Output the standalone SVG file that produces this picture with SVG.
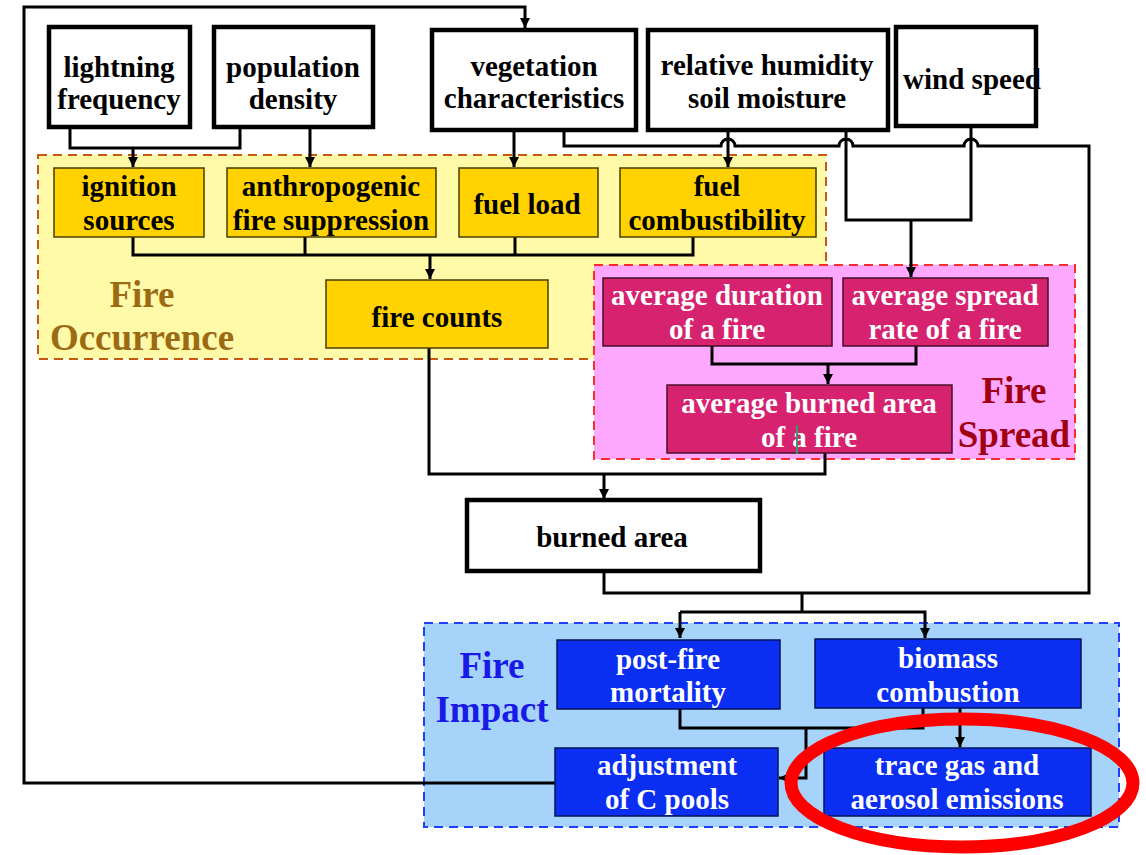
<svg xmlns="http://www.w3.org/2000/svg" width="1146" height="855" viewBox="0 0 1146 855">
<defs>
<marker id="arr" viewBox="0 0 10 10" refX="10" refY="5" markerWidth="10" markerHeight="11" markerUnits="userSpaceOnUse" orient="auto">
<path d="M0,0 L10,5 L0,10 z" fill="#000"/>
</marker>
</defs>
<style>
text{font-family:"Liberation Serif","Times New Roman",serif;font-weight:bold;text-anchor:middle}
.t{font-size:29px;fill:#000}
.w{font-size:29px;fill:#fff}
.g{font-size:37px}
.bx{fill:#fff;stroke:#000;stroke-width:4.5}
.yn{fill:#FFD200;stroke:#4a3c00;stroke-width:1.5}
.mn{fill:#D6226F;stroke:#4a0f2a;stroke-width:1.5}
.bn{fill:#0A2EF2;stroke:#04145a;stroke-width:1.5}
.c{fill:none;stroke:#000;stroke-width:3}
.ca{fill:none;stroke:#000;stroke-width:3;marker-end:url(#arr)}
</style>
<rect width="1146" height="855" fill="#fff"/>

<g id="region-occurrence">
<rect x="38" y="155" width="788" height="204" fill="#FFFAA8" stroke="#C55A11" stroke-width="2" stroke-dasharray="9,6"/>
<text class="g" x="142" y="307" fill="#9C6A14">Fire</text>
<text class="g" x="142" y="350" fill="#9C6A14">Occurrence</text>
</g>
<g id="region-spread">
<rect x="594" y="265" width="481" height="194" fill="#FFA8FF" stroke="#FF2A2A" stroke-width="2" stroke-dasharray="9,6"/>
<text class="g" x="1014" y="403" fill="#A00010">Fire</text>
<text class="g" x="1014" y="447" fill="#A00010">Spread</text>
</g>
<g id="region-impact">
<rect x="424" y="623" width="695" height="204" fill="#A6D3FA" stroke="#1F3FFF" stroke-width="2" stroke-dasharray="9,6"/>
<text class="g" x="492" y="678" fill="#1A1AE6">Fire</text>
<text class="g" x="492" y="722" fill="#1A1AE6">Impact</text>
</g>

<g id="connectors">
<path class="ca" d="M555,783 H24 V7 H525 V28"/>
<path class="c" d="M70,127 V148 H240 V127"/>
<path class="ca" d="M133,148 V167"/>
<path class="ca" d="M310,128 V167"/>
<path class="ca" d="M514,130 V167"/>
<path class="c" d="M564,131 V146 H721 a7,7 0 0 1 14,0 H839 a7,7 0 0 1 14,0 H964 a7,7 0 0 1 14,0 H1089 V593 H604 V572"/>
<path class="ca" d="M728,131 V167"/>
<path class="c" d="M846,131 V220 H971 V127"/>
<path class="ca" d="M911,220 V277"/>
<path class="c" d="M133,237 V255 H693 V237 M305,237 V255 M515,237 V255"/>
<path class="ca" d="M430,255 V279"/>
<path class="c" d="M712,346 V364 H916 V346"/>
<path class="ca" d="M828,364 V384"/>
<path class="c" d="M429,348 V474 H825 V453"/>
<path class="ca" d="M604,474 V499"/>
<path class="c" d="M802,593 V612"/>
<path class="ca" d="M680,612 V638"/>
<path class="ca" d="M680,612 H925 V638"/>
<path class="c" d="M680,709 V728 H923 V708"/>
<path class="ca" d="M806,728 V778 H779"/>
<path class="ca" d="M960,708 V747"/>
</g>

<g id="n-lightning"><rect class="bx" x="49" y="27" width="141" height="100"/><text class="t" x="119" y="77">lightning</text><text class="t" x="119" y="109">frequency</text></g>
<g id="n-population"><rect class="bx" x="214" y="27" width="159" height="100"/><text class="t" x="293" y="77">population</text><text class="t" x="293" y="109">density</text></g>
<g id="n-vegetation"><rect class="bx" x="432" y="30" width="204" height="100"/><text class="t" x="534" y="76">vegetation</text><text class="t" x="534" y="108">characteristics</text></g>
<g id="n-humidity"><rect class="bx" x="648" y="30" width="240" height="100"/><text class="t" x="767" y="75">relative humidity</text><text class="t" x="767" y="108">soil moisture</text></g>
<g id="n-wind"><rect class="bx" x="896" y="27" width="140" height="99"/><text class="t" x="972" y="89">wind speed</text></g>

<g id="n-ignition"><rect class="yn" x="54" y="168" width="150" height="69"/><text class="t" x="129" y="196">ignition</text><text class="t" x="129" y="230">sources</text></g>
<g id="n-anthro"><rect class="yn" x="227" y="168" width="209" height="69"/><text class="t" x="331" y="196">anthropogenic</text><text class="t" x="331" y="230">fire suppression</text></g>
<g id="n-fuelload"><rect class="yn" x="459" y="168" width="139" height="69"/><text class="t" x="527" y="214">fuel load</text></g>
<g id="n-fuelcomb"><rect class="yn" x="620" y="168" width="196" height="69"/><text class="t" x="717" y="196">fuel</text><text class="t" x="717" y="230">combustibility</text></g>
<g id="n-firecounts"><rect class="yn" x="326" y="280" width="222" height="68"/><text class="t" x="437" y="327">fire counts</text></g>

<g id="n-duration"><rect class="mn" x="603" y="278" width="229" height="68"/><text class="w" x="717" y="305">average duration</text><text class="w" x="717" y="339">of a fire</text></g>
<g id="n-spreadrate"><rect class="mn" x="843" y="278" width="205" height="68"/><text class="w" x="945" y="305">average spread</text><text class="w" x="945" y="339">rate of a fire</text></g>
<g id="n-avgburned"><rect class="mn" x="667" y="385" width="285" height="68"/><text class="w" x="809" y="413">average burned area</text><text class="w" x="809" y="447">of a fire</text><line x1="797" y1="425" x2="797" y2="454" stroke="#3a9a6a" stroke-width="2"/></g>

<g id="n-burned"><rect class="bx" x="467" y="500" width="293" height="71"/><text class="t" x="612" y="547">burned area</text></g>

<g id="n-mortality"><rect class="bn" x="557" y="640" width="223" height="69"/><text class="w" x="668" y="669">post-fire</text><text class="w" x="668" y="702">mortality</text></g>
<g id="n-biomass"><rect class="bn" x="815" y="639" width="266" height="69"/><text class="w" x="948" y="668">biomass</text><text class="w" x="948" y="702">combustion</text></g>
<g id="n-cpools"><rect class="bn" x="555" y="748" width="223" height="68"/><text class="w" x="667" y="775">adjustment</text><text class="w" x="667" y="809">of C pools</text></g>
<g id="n-emissions"><rect class="bn" x="824" y="748" width="267" height="68"/><text class="w" x="957" y="775">trace gas and</text><text class="w" x="957" y="809">aerosol emissions</text></g>

<ellipse cx="962" cy="783" rx="171" ry="64" fill="none" stroke="#FF0000" stroke-width="13"/>
</svg>
